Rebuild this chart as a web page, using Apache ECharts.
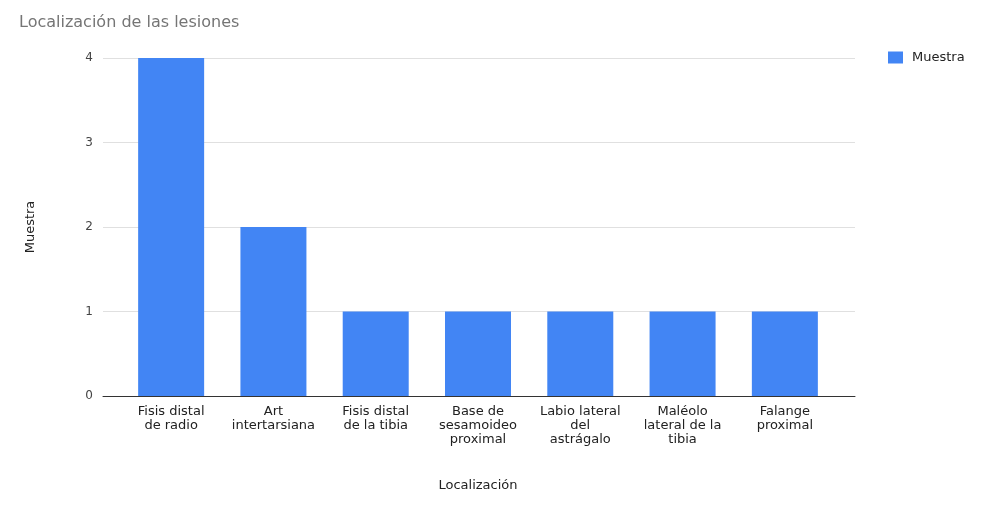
<!DOCTYPE html>
<html>
<head>
<meta charset="utf-8">
<script src="https://cdn.jsdelivr.net/npm/echarts@6/dist/echarts.min.js"></script>
<style>
html,body{margin:0;padding:0;background:#fff;}
#c{width:1002px;height:510px;}
</style>
</head>
<body>
<div id="c"></div>
<script>
var categories = ["Fisis distal\nde radio", "Art\nintertarsiana", "Fisis distal\nde la tibia", "Base de\nsesamoideo\nproximal", "Labio lateral\ndel\nastrágalo", "Maléolo\nlateral de la\ntibia", "Falange\nproximal"];
var muestra = [4, 2, 1, 1, 1, 1, 1];
var yTicks = [0, 1, 2, 3, 4];
var seriesName = "Muestra";

var FONT = "'DejaVu Sans', 'Liberation Sans', Arial, sans-serif";
var chart = echarts.init(document.getElementById('c'), null, {renderer: 'canvas'});
chart.setOption({
  backgroundColor: '#fff',
  animation: false,
  textStyle: {fontFamily: FONT},
  title: {
    text: 'Localización de las lesiones',
    left: 14, top: 10,
    textStyle: {fontFamily: FONT, fontSize: 16, fontWeight: 'normal', color: '#757575'}
  },
  legend: {
    data: [seriesName],
    left: 883, top: 46,
    itemWidth: 15, itemHeight: 12, itemGap: 8,
    icon: 'rect',
    textStyle: {fontFamily: FONT, fontSize: 13, color: '#222', padding: [0, 0, 0, 4]}
  },
  grid: [
    {left: 103, right: 147, top: 58, bottom: 114},
    {left: 120, right: 166, top: 58, bottom: 114}
  ],
  xAxis: [
    {gridIndex: 0, type: 'value', min: 0, max: 1, show: true,
     axisLine: {show: true, lineStyle: {color: '#333', width: 1}},
     axisTick: {show: false}, axisLabel: {show: false}, splitLine: {show: false}},
    {gridIndex: 1, type: 'category', data: categories,
     axisLine: {show: false}, axisTick: {show: false},
     axisLabel: {interval: 0, fontFamily: FONT, fontSize: 13, color: '#222', lineHeight: 14, margin: 9},
     name: 'Localización', nameLocation: 'middle', nameGap: 83,
     nameTextStyle: {fontFamily: FONT, fontSize: 13, color: '#222'}}
  ],
  yAxis: [
    {gridIndex: 0, type: 'value', min: 0, max: 4, interval: 1,
     axisLine: {show: false}, axisTick: {show: false},
     axisLabel: {fontFamily: FONT, fontSize: 12, color: '#444', margin: 10,
                 formatter: function (v) { return yTicks.indexOf(v) >= 0 ? String(v) : ''; }},
     splitLine: {show: true, lineStyle: {color: '#e0e0e0', width: 1}},
     name: 'Muestra', nameLocation: 'middle', nameGap: 66, nameRotate: 90,
     nameTextStyle: {fontFamily: FONT, fontSize: 13, color: '#222'}},
    {gridIndex: 1, type: 'value', min: 0, max: 4, interval: 1, show: false}
  ],
  series: [
    {name: seriesName, type: 'bar', xAxisIndex: 1, yAxisIndex: 1,
     data: muestra, barWidth: 66,
     itemStyle: {color: '#4285f4'}}
  ]
});
</script>
</body>
</html>
